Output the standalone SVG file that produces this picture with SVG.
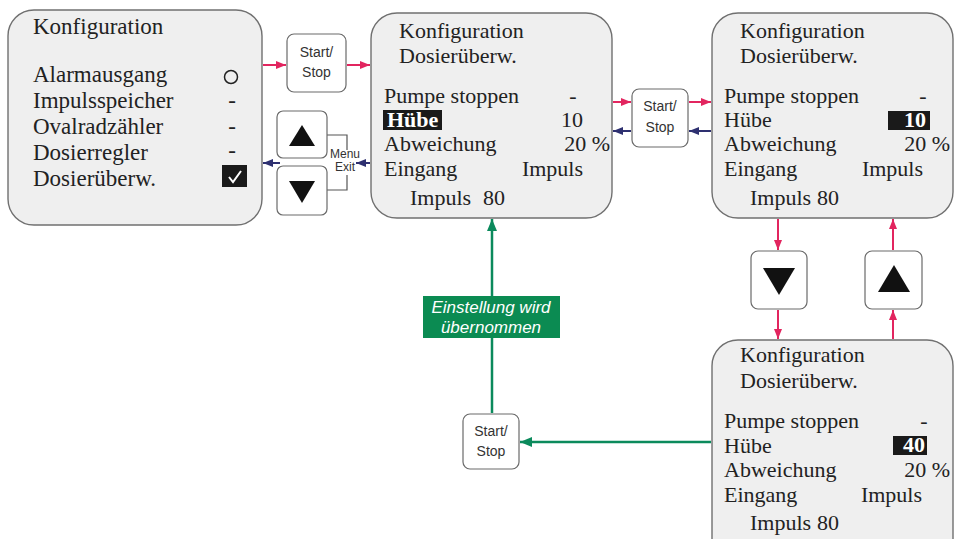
<svg xmlns="http://www.w3.org/2000/svg" width="956" height="539" viewBox="0 0 956 539">
<defs>
<style>
.panel{fill:#efefef;stroke:#707070;stroke-width:1.4}
.btn{fill:#ffffff;stroke:#6a6a6a;stroke-width:1.2}
.t{font-family:"Liberation Serif","Times New Roman",serif;font-size:22px;fill:#222}
.t1{font-family:"Liberation Serif","Times New Roman",serif;font-size:23px;fill:#222}
.tb{font-family:"Liberation Serif","Times New Roman",serif;font-size:22px;font-weight:bold;fill:#fff}
.s{font-family:"Liberation Sans",Arial,sans-serif;font-size:14px;fill:#333;text-anchor:middle}
.sm{font-family:"Liberation Sans",Arial,sans-serif;font-size:12px;fill:#333;text-anchor:middle}
.g{font-family:"Liberation Sans",Arial,sans-serif;font-size:17px;font-style:italic;fill:#fff;text-anchor:middle}
.red{stroke:#e2255f;stroke-width:2;fill:none}
.blue{stroke:#2e3070;stroke-width:2;fill:none}
.green{stroke:#0b8a5c;stroke-width:2.5;fill:none}
.tri{fill:#111}
</style>
<marker id="ar" markerUnits="userSpaceOnUse" markerWidth="10" markerHeight="8" refX="10" refY="4" orient="auto"><path d="M0,0 L10,4 L0,8 z" fill="#e2255f"/></marker>
<marker id="ab" markerUnits="userSpaceOnUse" markerWidth="10" markerHeight="8" refX="10" refY="4" orient="auto"><path d="M0,0 L10,4 L0,8 z" fill="#2e3070"/></marker>
<marker id="ag" markerUnits="userSpaceOnUse" markerWidth="12" markerHeight="10" refX="12" refY="5" orient="auto"><path d="M0,0 L12,5 L0,10 z" fill="#0b8a5c"/></marker>
</defs>
<rect width="956" height="539" fill="#ffffff"/>

<g id="connectors">
<path class="red" marker-end="url(#ar)" d="M263,65 H286"/>
<path class="red" marker-end="url(#ar)" d="M347,65 H370"/>
<path class="blue" marker-end="url(#ab)" d="M370,163 H356"/>
<path class="blue" marker-end="url(#ab)" d="M280,163 H263"/>
<path class="red" marker-end="url(#ar)" d="M613,102 H631"/>
<path class="red" marker-end="url(#ar)" d="M689,102 H711"/>
<path class="blue" marker-end="url(#ab)" d="M711,131 H689"/>
<path class="blue" marker-end="url(#ab)" d="M631,131 H613"/>
<path class="red" marker-end="url(#ar)" d="M778,219 V250"/>
<path class="red" marker-end="url(#ar)" d="M778,310 V339"/>
<path class="red" marker-end="url(#ar)" d="M893,339 V310"/>
<path class="red" marker-end="url(#ar)" d="M893,250 V219"/>
<path class="green" marker-end="url(#ag)" d="M492,413 V219"/>
<path class="green" marker-end="url(#ag)" d="M711,442 H520"/>
<path stroke="#555" stroke-width="1.2" fill="none" d="M327,135 H347 V150 M347,175 V190 H327"/>
</g>

<g id="panel1">
<rect class="panel" x="8" y="10" width="254" height="215" rx="26"/>
<text class="t1" x="33" y="34">Konfiguration</text>
<text class="t1" x="33" y="82">Alarmausgang</text>
<text class="t1" x="33" y="108">Impulsspeicher</text>
<text class="t1" x="33" y="134">Ovalradzähler</text>
<text class="t1" x="33" y="160">Dosierregler</text>
<text class="t1" x="33" y="186">Dosierüberw.</text>
<circle cx="231" cy="77" r="6.5" fill="none" stroke="#222" stroke-width="1.5"/>
<text class="t1" x="232" y="108" text-anchor="middle">-</text>
<text class="t1" x="232" y="134" text-anchor="middle">-</text>
<text class="t1" x="232" y="158" text-anchor="middle">-</text>
<rect x="222" y="165" width="25" height="22" fill="#1a1a1a"/>
<path d="M229,177 L233,182 L241,171" fill="none" stroke="#fff" stroke-width="2"/>
</g>

<g id="startstop1">
<rect class="btn" x="287" y="34" width="59" height="58" rx="7"/>
<text class="s" x="316.5" y="57">Start/</text>
<text class="s" x="316.5" y="77">Stop</text>
</g>

<g id="btn-up1">
<rect class="btn" x="277" y="111" width="50" height="47" rx="6"/>
<polygon class="tri" points="302,125 289,146 315,146"/>
</g>
<g id="btn-down1">
<rect class="btn" x="277" y="166" width="50" height="49" rx="6"/>
<polygon class="tri" points="289,181 315,181 302,203"/>
</g>
<g id="menu-exit">
<text class="sm" x="345" y="158">Menu</text>
<text class="sm" x="345" y="171">Exit</text>
</g>

<g id="panel2">
<rect class="panel" x="371" y="13" width="241" height="205" rx="26"/>
<text class="t" x="399" y="38">Konfiguration</text>
<text class="t" x="399" y="63">Dosierüberw.</text>
<text class="t" x="384" y="103">Pumpe stoppen</text>
<text class="t" x="573" y="103" text-anchor="middle">-</text>
<rect x="383" y="110" width="59" height="20" fill="#1a1a1a"/>
<text class="tb" x="387" y="127">Hübe</text>
<text class="t" x="583" y="127" text-anchor="end">10</text>
<text class="t" x="384" y="151">Abweichung</text>
<text class="t" x="610" y="151" text-anchor="end">20 %</text>
<text class="t" x="384" y="176">Eingang</text>
<text class="t" x="583" y="176" text-anchor="end">Impuls</text>
<text class="t" x="410" y="205">Impuls <tspan x="483">80</tspan></text>
</g>

<g id="startstop2">
<rect class="btn" x="632" y="89" width="56" height="58" rx="7"/>
<text class="s" x="660" y="111">Start/</text>
<text class="s" x="660" y="132">Stop</text>
</g>

<g id="panel3">
<rect class="panel" x="712" y="13" width="241" height="205" rx="26"/>
<text class="t" x="740" y="38">Konfiguration</text>
<text class="t" x="740" y="63">Dosierüberw.</text>
<text class="t" x="724" y="103">Pumpe stoppen</text>
<text class="t" x="923" y="103" text-anchor="middle">-</text>
<text class="t" x="724" y="127">Hübe</text>
<rect x="888" y="111" width="42" height="19" fill="#1a1a1a"/>
<text class="tb" x="926" y="127" text-anchor="end">10</text>
<text class="t" x="950" y="151" text-anchor="end">20 %</text>
<text class="t" x="724" y="151">Abweichung</text>
<text class="t" x="724" y="176">Eingang</text>
<text class="t" x="923" y="176" text-anchor="end">Impuls</text>
<text class="t" x="750" y="205">Impuls <tspan x="817">80</tspan></text>
</g>

<g id="btn-down2">
<rect class="btn" x="751" y="251" width="56" height="58" rx="7"/>
<polygon class="tri" points="763,268 795,268 779,295"/>
</g>
<g id="btn-up2">
<rect class="btn" x="865" y="251" width="57" height="58" rx="7"/>
<polygon class="tri" points="894,265 910,292 878,292"/>
</g>

<g id="panel4">
<rect class="panel" x="712" y="340" width="241" height="230" rx="26"/>
<text class="t" x="740" y="362">Konfiguration</text>
<text class="t" x="740" y="388">Dosierüberw.</text>
<text class="t" x="724" y="428">Pumpe stoppen</text>
<text class="t" x="924" y="428" text-anchor="middle">-</text>
<text class="t" x="724" y="453">Hübe</text>
<rect x="893" y="436" width="34" height="19" fill="#1a1a1a"/>
<text class="tb" x="925" y="452" text-anchor="end">40</text>
<text class="t" x="724" y="477">Abweichung</text>
<text class="t" x="950" y="477" text-anchor="end">20 %</text>
<text class="t" x="724" y="502">Eingang</text>
<text class="t" x="922" y="502" text-anchor="end">Impuls</text>
<text class="t" x="750" y="530">Impuls <tspan x="817">80</tspan></text>
</g>

<g id="label-uebernommen">
<rect x="423" y="296" width="137" height="42" fill="#0b8b52"/>
<text class="g" x="491" y="313">Einstellung wird</text>
<text class="g" x="491" y="333">übernommen</text>
</g>

<g id="startstop3">
<rect class="btn" x="463" y="414" width="56" height="55" rx="7"/>
<text class="s" x="491" y="436">Start/</text>
<text class="s" x="491" y="456">Stop</text>
</g>
</svg>
